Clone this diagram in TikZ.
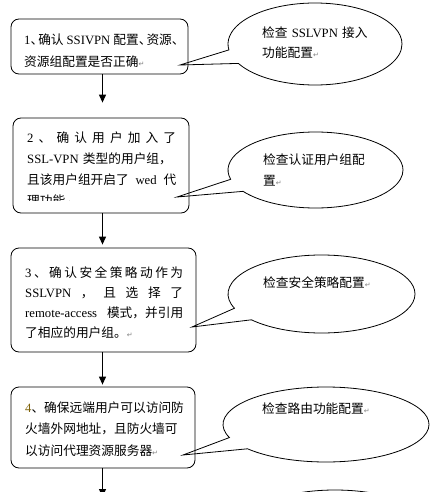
\documentclass[tikz,border=0pt]{standalone}
\usepackage{fontspec}
\setmainfont{Noto Sans CJK SC}
\newfontfamily\lat{Liberation Serif}
\newfontfamily\dv{DejaVu Sans}
\usetikzlibrary{arrows.meta,shapes.callouts}
\definecolor{numolive}{RGB}{128,100,10}
\newcommand{\La}[1]{{\lat #1}}
\newcommand{\pmk}{{\dv\fontsize{7}{7}\selectfont\color{gray}↵}}
\newcommand{\gf}{\hfill}
\tikzset{
  box/.style={draw, line width=0.8pt, rounded corners=8pt, minimum width=#1, inner sep=0pt},
  bubble/.style={ellipse callout, draw, line width=0.8pt, inner sep=0pt, callout pointer arc=20},
  txt/.style={anchor=base west, inner sep=0pt, align=left, text width=#1},
  arr/.style={line width=1.1pt, -{Triangle[length=8pt,width=7pt]}},
}
\begin{document}
\begin{tikzpicture}[x=1pt,y=1pt,font=\fontsize{12.7}{22}\selectfont]
\clip (0,0) rectangle (440,-492);
\fill[white] (0,0) rectangle (440,-492);
% tips of callouts
\coordinate (p1) at (180,-65);
\coordinate (p2) at (177,-197);
\coordinate (p3) at (192,-327);
\coordinate (p4) at (183,-455);
\coordinate (p5) at (200,-560);
% boxes
\node[box=177pt, minimum height=55pt] (b1) at (99.5,-46.5) {};
\node[box=176pt, minimum height=95pt] (b2) at (101,-165.5) {};
\node[box=185pt, minimum height=104pt] (b3) at (103.5,-300) {};
\node[box=184pt, minimum height=81pt] (b4) at (103,-427.5) {};
% box texts
\node[txt=154pt] (t1) at (24,-45) {\makebox[\linewidth][s]{\La{1}、\kern-5pt 确认\kern3pt\La{SSIVPN}\kern3pt 配置、\kern-5pt 资源、}\\\mbox{资源组配置是否正确\pmk}};
\begin{scope}
\clip (13,-118) rectangle (189,-200.5);
\node[txt=149pt, font=\fontsize{12.7}{21}\selectfont] (t2) at (27,-142) {\makebox[\linewidth][s]{\La{2}\gf 、\gf 确\gf 认\gf 用\gf 户\gf 加\gf 入\gf 了}\\\mbox{\La{SSL-VPN} 类型的用户组，}\\\makebox[\linewidth][s]{且该用户组开启了\gf\La{wed}\gf 代}\\\mbox{理功能\pmk}};
\end{scope}
\node[txt=158pt, font=\fontsize{12.7}{20}\selectfont] (t3) at (25,-277.5) {\makebox[\linewidth][s]{\La{3}\gf 、\gf 确\gf 认\gf 安\gf 全\gf 策\gf 略\gf 动\gf 作\gf 为}\\\makebox[\linewidth][s]{\La{SSLVPN}\gf ，\gf 且\gf 选\gf 择\gf 了}\\\makebox[\linewidth][s]{\La{remote-access}\gf 模式，并引用}\\\mbox{了相应的用户组。\pmk}};
\node[txt=160pt, font=\fontsize{12.7}{21.5}\selectfont] (t4) at (25,-412) {\mbox{\textcolor{numolive}{\La{4}}、确保远端用户可以访问防}\\\mbox{火墙外网地址，且防火墙可}\\\mbox{以访问代理资源服务器\pmk}};
% callouts
\node[bubble, minimum width=174pt, minimum height=82pt, callout absolute pointer=(p1)] (c1) at (315,-44) {};
\node[bubble, minimum width=175pt, minimum height=76pt, callout absolute pointer=(p2)] (c2) at (315.5,-170) {};
\node[bubble, minimum width=187pt, minimum height=78pt, callout absolute pointer=(p3)] (c3) at (321.5,-294) {};
\node[bubble, minimum width=206pt, minimum height=75pt, callout absolute pointer=(p4)] (c4) at (326,-424.5) {};
\node[bubble, minimum width=190pt, minimum height=76pt, callout absolute pointer=(p5)] (c5) at (335,-528) {};
% callout texts
\node[txt=120pt, font=\fontsize{12.7}{20}\selectfont] (e1) at (262,-38) {\mbox{检查 \La{SSLVPN} 接入}\\功能配置\pmk};
\node[txt=120pt, font=\fontsize{12.7}{21}\selectfont] (e2) at (263,-164) {\mbox{检查认证用户组配}\\置\pmk};
\node[txt=120pt] (e3) at (263,-287) {\mbox{检查安全策略配置\pmk}};
\node[txt=120pt] (e4) at (262,-413) {\mbox{检查路由功能配置\pmk}};
% arrows
\coordinate (end4) at (102.5,-497);
\draw[arr, shorten >=15pt] ([xshift=3pt]b1.south) -- ([xshift=3pt]b1.south |- b2.north);
\draw[arr, shorten >=3pt] ([xshift=1.5pt]b2.south) -- ([xshift=1.5pt]b2.south |- b3.north);
\draw[arr, shorten >=2pt] ([xshift=-1pt]b3.south) -- ([xshift=-1pt]b3.south |- b4.north);
\draw[arr] ([xshift=-0.5pt]b4.south) -- (end4);
\end{tikzpicture}
\end{document}
